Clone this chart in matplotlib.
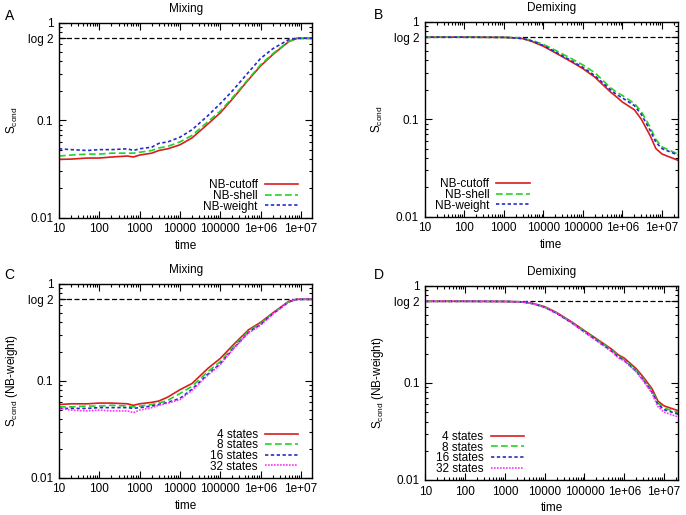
import numpy as np
import matplotlib
matplotlib.use("Agg")
import matplotlib.pyplot as plt
from matplotlib.ticker import LogLocator, NullFormatter, FixedLocator, FixedFormatter

plt.rcParams["font.family"] = ["Liberation Sans", "DejaVu Sans"]
plt.rcParams["mathtext.fontset"] = "custom"
plt.rcParams["mathtext.rm"] = "Liberation Sans"

# Time grids
t_mix = [10, 20, 50, 100, 200, 500, 700, 1000, 2000, 3000, 5000, 1e4, 2e4,
         5e4, 1e5, 2e5, 5e5, 1e6, 2e6, 5e6, 8e6, 2e7]
t_demix = [10, 100, 1000, 2000, 3000, 5000, 1e4, 2e4, 5e4, 1e5, 2e5, 5e5,
           7e5, 1e6, 2e6, 3e6, 5e6, 7e6, 1e7, 2.5e7]

# Panel A: mixing, neighbourhood definitions
a_cutoff = [0.0397, 0.040, 0.041, 0.041, 0.042, 0.043, 0.042, 0.044, 0.046,
            0.049, 0.051, 0.056, 0.066, 0.092, 0.119, 0.165, 0.26, 0.36,
            0.47, 0.64, 0.69, 0.693]
a_shell = [0.043, 0.044, 0.045, 0.045, 0.046, 0.046, 0.046, 0.047, 0.049,
           0.052, 0.054, 0.060, 0.070, 0.097, 0.124, 0.17, 0.265, 0.37,
           0.48, 0.645, 0.69, 0.693]
a_weight = [0.051, 0.050, 0.049, 0.050, 0.050, 0.051, 0.049, 0.051, 0.053,
            0.058, 0.060, 0.067, 0.080, 0.112, 0.148, 0.20, 0.31, 0.43,
            0.54, 0.67, 0.693, 0.693]

# Panel B: demixing, neighbourhood definitions
b_cutoff = [0.693, 0.693, 0.69, 0.68, 0.67, 0.63, 0.56, 0.48, 0.39, 0.33,
            0.27, 0.19, 0.17, 0.15, 0.125, 0.10, 0.068, 0.05, 0.044, 0.038]
b_shell = [0.693, 0.693, 0.69, 0.685, 0.675, 0.645, 0.585, 0.51, 0.42, 0.36,
           0.30, 0.21, 0.19, 0.175, 0.145, 0.12, 0.083, 0.062, 0.052, 0.044]
b_weight = [0.693, 0.693, 0.69, 0.68, 0.67, 0.635, 0.57, 0.49, 0.40, 0.34,
            0.28, 0.20, 0.18, 0.165, 0.138, 0.112, 0.077, 0.058, 0.05, 0.043]

# Panel C: mixing, number of states
c_4 = [0.057, 0.058, 0.058, 0.059, 0.059, 0.058, 0.056, 0.058, 0.060, 0.062,
       0.068, 0.081, 0.094, 0.135, 0.17, 0.23, 0.335, 0.40, 0.50, 0.66,
       0.693, 0.693]
c_8 = [0.054, 0.054, 0.055, 0.055, 0.056, 0.055, 0.054, 0.055, 0.057, 0.059,
       0.063, 0.074, 0.088, 0.125, 0.158, 0.22, 0.325, 0.39, 0.495, 0.655,
       0.69, 0.693]
c_16 = [0.052, 0.052, 0.052, 0.053, 0.053, 0.053, 0.052, 0.053, 0.055, 0.057,
        0.060, 0.066, 0.082, 0.118, 0.15, 0.21, 0.315, 0.38, 0.49, 0.65,
        0.69, 0.693]
c_32 = [0.052, 0.050, 0.049, 0.050, 0.049, 0.049, 0.047, 0.050, 0.053, 0.056,
        0.059, 0.064, 0.080, 0.115, 0.147, 0.208, 0.31, 0.375, 0.485, 0.65,
        0.69, 0.693]

# Panel D: demixing, number of states
d_4 = [0.693, 0.693, 0.69, 0.685, 0.68, 0.66, 0.61, 0.53, 0.42, 0.345, 0.285,
       0.22, 0.195, 0.18, 0.14, 0.115, 0.087, 0.065, 0.058, 0.051]
d_8 = [0.693, 0.693, 0.69, 0.685, 0.68, 0.655, 0.605, 0.525, 0.415, 0.34,
       0.28, 0.215, 0.19, 0.173, 0.135, 0.11, 0.083, 0.062, 0.055, 0.049]
d_16 = [0.693, 0.693, 0.69, 0.685, 0.68, 0.655, 0.60, 0.52, 0.41, 0.335,
        0.275, 0.21, 0.185, 0.17, 0.132, 0.107, 0.08, 0.06, 0.053, 0.047]
d_32 = [0.693, 0.693, 0.69, 0.685, 0.68, 0.655, 0.60, 0.52, 0.41, 0.333,
        0.272, 0.207, 0.182, 0.168, 0.13, 0.105, 0.078, 0.057, 0.05, 0.044]

nb_labels = ["NB-cutoff", "NB-shell", "NB-weight"]
state_labels = ["4 states", "8 states", "16 states", "32 states"]
x_ticks = [10, 100, 1000, 10000, 100000, 1e6, 1e7]
x_ticklabels = ["10", "100", "1000", "10000", "100000", "1e+06", "1e+07"]
y_ticks = [0.01, 0.1, np.log(2), 1]
y_ticklabels = ["0.01", "0.1", "log 2", "1"]

colors = ["#d81e1e", "#22d422", "#2a2ac8", "#ff30ff"]
styles = ["-", (0, (4, 2)), (0, (2, 1.5)), (0, (1, 0.8))]

fs = 8.5


def setup_axes(ax, xmax, title, letter, letter_pos, ylabel):
    ax.set_xscale("log")
    ax.set_yscale("log")
    ax.set_xlim(10, xmax)
    ax.set_ylim(0.01, 1)
    ax.axhline(np.log(2), color="black", lw=0.9, ls=(0, (4, 2)), zorder=1)
    ax.xaxis.set_major_locator(FixedLocator(x_ticks))
    ax.xaxis.set_major_formatter(FixedFormatter(x_ticklabels))
    ax.xaxis.set_minor_locator(LogLocator(base=10, subs=np.arange(2, 10)))
    ax.xaxis.set_minor_formatter(NullFormatter())
    ax.yaxis.set_major_locator(FixedLocator(y_ticks))
    ax.yaxis.set_major_formatter(FixedFormatter(y_ticklabels))
    ax.yaxis.set_minor_locator(LogLocator(base=10, subs=np.arange(2, 10)))
    ax.yaxis.set_minor_formatter(NullFormatter())
    ax.tick_params(which="both", direction="in", top=True, right=True,
                   labelsize=fs, width=0.8)
    ax.tick_params(which="major", length=5, pad=4)
    ax.tick_params(which="minor", length=2.5)
    for sp in ax.spines.values():
        sp.set_linewidth(1.0)
    ax.set_xlabel("time", fontsize=fs, labelpad=3)
    ax.set_ylabel(ylabel, fontsize=fs, labelpad=6)
    ax.set_title(title, fontsize=fs, pad=8)
    ax.text(letter_pos[0], letter_pos[1], letter, transform=ax.transAxes,
            fontsize=10, va="center", ha="left")


fig = plt.figure(figsize=(6.86, 5.15), dpi=100)
axA = fig.add_axes([0.086, 0.577, 0.369, 0.379])
axB = fig.add_axes([0.619, 0.579, 0.369, 0.379])
axC = fig.add_axes([0.086, 0.072, 0.369, 0.377])
axD = fig.add_axes([0.620, 0.068, 0.369, 0.377])

s_cond = r"S$_{\mathrm{cond}}$"
s_cond_w = r"S$_{\mathrm{cond}}$ (NB-weight)"

setup_axes(axA, 1.9e7, "Mixing", "A", (-0.215, 1.035), s_cond)
setup_axes(axB, 2.5e7, "Demixing", "B", (-0.2, 1.035), s_cond)
setup_axes(axC, 1.9e7, "Mixing", "C", (-0.215, 1.045), s_cond_w)
setup_axes(axD, 2.3e7, "Demixing", "D", (-0.205, 1.055), s_cond_w)

for ys, lab, c, ls in zip([a_cutoff, a_shell, a_weight], nb_labels, colors, styles):
    axA.plot(t_mix, ys, color=c, ls=ls, lw=1.2, label=lab)
for ys, lab, c, ls in zip([b_cutoff, b_shell, b_weight], nb_labels, colors, styles):
    axB.plot(t_demix, ys, color=c, ls=ls, lw=1.2, label=lab)
for ys, lab, c, ls in zip([c_4, c_8, c_16, c_32], state_labels, colors, styles):
    axC.plot(t_mix, ys, color=c, ls=ls, lw=1.2, label=lab)
for ys, lab, c, ls in zip([d_4, d_8, d_16, d_32], state_labels, colors, styles):
    axD.plot(t_demix, ys, color=c, ls=ls, lw=1.2, label=lab)

leg_kw = dict(frameon=False, markerfirst=False, fontsize=fs, handlelength=2.8,
              labelspacing=-0.12, handletextpad=0.6, borderaxespad=0.05)
axA.legend(loc="lower right", bbox_to_anchor=(0.965, 0.0), **leg_kw)
axB.legend(loc="lower left", bbox_to_anchor=(0.02, 0.0), **leg_kw)
axC.legend(loc="lower right", bbox_to_anchor=(0.965, 0.0), **leg_kw)
axD.legend(loc="lower left", bbox_to_anchor=(0.02, 0.0), **leg_kw)

fig.savefig("out.png", dpi=100)
